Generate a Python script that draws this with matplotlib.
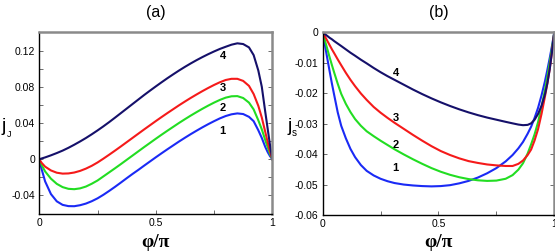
import numpy as np
import matplotlib
matplotlib.use("Agg")
import matplotlib.pyplot as plt
from matplotlib.ticker import FixedLocator, FixedFormatter

plt.rcParams['font.family'] = ['Liberation Sans', 'DejaVu Sans']

# ---- panel (a): j_J versus phi/pi ----
phi_a = [0, 0.01, 0.025, 0.05, 0.075, 0.1, 0.125, 0.15, 0.175, 0.2, 0.225, 0.25,
         0.275, 0.3, 0.325, 0.35, 0.375, 0.4, 0.425, 0.45, 0.475, 0.5, 0.525, 0.55,
         0.575, 0.6, 0.625, 0.65, 0.675, 0.7, 0.725, 0.75, 0.775, 0.8, 0.825, 0.85,
         0.875, 0.9, 0.92, 0.94, 0.955, 0.97, 0.98, 0.99, 1.0]
jj_1 = [0, -0.011, -0.0245, -0.0385, -0.0465, -0.0504, -0.0518, -0.0519, -0.0508,
        -0.049, -0.0464, -0.0432, -0.0393, -0.035, -0.0305, -0.0258, -0.021, -0.0163,
        -0.0118, -0.0071, -0.0025, 0.0021, 0.0066, 0.011, 0.0153, 0.0196, 0.0237,
        0.0277, 0.0315, 0.0352, 0.0387, 0.042, 0.0451, 0.0477, 0.0496, 0.0506, 0.0499,
        0.0468, 0.042, 0.032, 0.0235, 0.0135, 0.008, 0.0035, 0]
jj_2 = [0, -0.0065, -0.0135, -0.0215, -0.0272, -0.0308, -0.0327, -0.0331, -0.0322,
        -0.0302, -0.0271, -0.0235, -0.019, -0.0145, -0.01, -0.0054, -0.0007, 0.004,
        0.0087, 0.0134, 0.018, 0.0226, 0.0271, 0.0315, 0.0358, 0.0401, 0.0442, 0.0482,
        0.052, 0.0557, 0.0592, 0.0625, 0.0655, 0.068, 0.0695, 0.0697, 0.0676, 0.0625,
        0.055, 0.043, 0.033, 0.021, 0.0135, 0.006, 0]
jj_3 = [0, -0.004, -0.0082, -0.0124, -0.0149, -0.0159, -0.0157, -0.0147, -0.0129,
        -0.0104, -0.0073, -0.0036, 0.0006, 0.005, 0.0095, 0.0141, 0.0188, 0.0235,
        0.0282, 0.0329, 0.0375, 0.0421, 0.0466, 0.051, 0.0553, 0.0596, 0.0637, 0.0677,
        0.0715, 0.0752, 0.0787, 0.082, 0.085, 0.0875, 0.0888, 0.0888, 0.0865, 0.081,
        0.072, 0.059, 0.046, 0.030, 0.019, 0.009, 0]
jj_4 = [0, 0.0008, 0.002, 0.0043, 0.0068, 0.0095, 0.0126, 0.016, 0.0196, 0.0234,
        0.0275, 0.0318, 0.0363, 0.041, 0.0459, 0.0509, 0.0559, 0.0609, 0.0659, 0.0709,
        0.0757, 0.0804, 0.085, 0.0895, 0.0938, 0.098, 0.102, 0.1058, 0.1094, 0.1128,
        0.116, 0.119, 0.1218, 0.1242, 0.1265, 0.128, 0.1272, 0.1235, 0.115, 0.098,
        0.080, 0.052, 0.034, 0.016, 0]

# ---- panel (b): j_s versus phi/pi ----
phi_b = [0, 0.005, 0.01, 0.02, 0.03, 0.04, 0.05, 0.065, 0.08, 0.1, 0.12, 0.14, 0.165,
         0.19, 0.22, 0.25, 0.28, 0.31, 0.35, 0.39, 0.43, 0.47, 0.51, 0.55, 0.59, 0.63,
         0.67, 0.71, 0.75, 0.79, 0.82, 0.845, 0.865, 0.885, 0.9, 0.915, 0.93, 0.945,
         0.96, 0.97, 0.98, 0.99, 1.0]
js_1 = [0, -0.0021, -0.0043, -0.0086, -0.0128, -0.0169, -0.0207, -0.0263, -0.0307,
        -0.0348, -0.0383, -0.041, -0.0436, -0.0455, -0.047, -0.0481, -0.0489, -0.0495,
        -0.05, -0.0503, -0.0505, -0.0506, -0.0505, -0.0502, -0.0496, -0.0488, -0.0477,
        -0.0463, -0.0446, -0.0424, -0.0403, -0.0381, -0.036, -0.0333, -0.031, -0.0281,
        -0.0248, -0.0207, -0.016, -0.0124, -0.0086, -0.0045, 0]
js_2 = [0, -0.0014, -0.0028, -0.0055, -0.0082, -0.0108, -0.0133, -0.0169, -0.0202,
        -0.0235, -0.0262, -0.0285, -0.0307, -0.0325, -0.0341, -0.0356, -0.037, -0.0384,
        -0.0401, -0.0417, -0.0432, -0.0446, -0.0458, -0.0468, -0.0476, -0.0482, -0.0486,
        -0.0488, -0.0487, -0.0481, -0.0469, -0.0451, -0.043, -0.0398, -0.0368, -0.0335,
        -0.0295, -0.0245, -0.0188, -0.0146, -0.0102, -0.0053, 0]
js_3 = [0, -0.0007, -0.0014, -0.0028, -0.0042, -0.0056, -0.0069, -0.0089, -0.0108,
        -0.0133, -0.0156, -0.0177, -0.0201, -0.0222, -0.0245, -0.0264, -0.0281, -0.0297,
        -0.0317, -0.0337, -0.0356, -0.0374, -0.039, -0.0403, -0.0414, -0.0423, -0.0429,
        -0.0434, -0.0437, -0.0439, -0.0439, -0.0432, -0.0421, -0.0403, -0.0385, -0.0355,
        -0.0318, -0.0268, -0.021, -0.0168, -0.0122, -0.0065, 0]
js_4 = [0, -0.0003, -0.0006, -0.0012, -0.0018, -0.0023, -0.0029, -0.0037, -0.0045,
        -0.0056, -0.0067, -0.0077, -0.009, -0.0102, -0.0117, -0.0131, -0.0144, -0.0156,
        -0.0172, -0.0188, -0.0203, -0.0217, -0.023, -0.0242, -0.0253, -0.0263, -0.0272,
        -0.028, -0.0287, -0.0294, -0.0299, -0.0303, -0.0305, -0.0304, -0.0299, -0.0287,
        -0.0268, -0.0241, -0.0203, -0.0168, -0.0123, -0.0065, 0]

curve_names = ['1', '2', '3', '4']
colors = ['#1a2af5', '#22dd22', '#f51a1a', '#15106a']

# curve number label positions (data coords)
lab_a_x = [0.787, 0.787, 0.787, 0.787]
lab_a_y = [0.0315, 0.057, 0.0789, 0.1142]
lab_b_x = [0.315, 0.315, 0.315, 0.315]
lab_b_y = [-0.0447, -0.037, -0.0282, -0.01346]

xticks = [0, 0.5, 1]
xtick_labels = ['0', '0.5', '1']
xminor = [0.25, 0.75]
yticks_a = [-0.04, 0, 0.04, 0.08, 0.12]
ytick_labels_a = ['-0.04', '0', '0.04', '0.08', '0.12']
yminor_a = [-0.06, -0.02, 0.02, 0.06, 0.10, 0.14]
yticks_b = [-0.06, -0.05, -0.04, -0.03, -0.02, -0.01, 0]
ytick_labels_b = ['-0.06', '-0.05', '-0.04', '-0.03', '-0.02', '-0.01', '0']

fig = plt.figure(figsize=(5.55, 2.52), dpi=100)
ax_a = fig.add_axes([0.0708, 0.1508, 0.4198, 0.7222])
ax_b = fig.add_axes([0.5814, 0.1468, 0.4173, 0.7250])


def style_axes(ax, yt, ytl, ymin, ylim):
    ax.set_xlim(0, 1)
    ax.set_ylim(*ylim)
    ax.xaxis.set_major_locator(FixedLocator(xticks))
    ax.xaxis.set_major_formatter(FixedFormatter(xtick_labels))
    ax.xaxis.set_minor_locator(FixedLocator(xminor))
    ax.yaxis.set_major_locator(FixedLocator(yt))
    ax.yaxis.set_major_formatter(FixedFormatter(ytl))
    if ymin:
        ax.yaxis.set_minor_locator(FixedLocator(ymin))
    ax.tick_params(which='both', direction='in', labelsize=7.5, width=0.6,
                   right=True, top=False, colors='#555555', labelcolor='black')
    ax.tick_params(which='major', length=3, pad=3)
    ax.tick_params(which='minor', length=3)
    for s in ['left', 'bottom']:
        ax.spines[s].set_color('black')
        ax.spines[s].set_linewidth(1.0)
    for s in ['top', 'right']:
        ax.spines[s].set_color('#8a8a8a')
        ax.spines[s].set_linewidth(1.8)


for ys, c in zip([jj_1, jj_2, jj_3, jj_4], colors):
    ax_a.plot(phi_a, ys, color=c, lw=1.5, solid_joinstyle='round')
for ys, c in zip([js_1, js_2, js_3, js_4], colors):
    ax_b.plot(phi_b, ys, color=c, lw=1.5, solid_joinstyle='round')

for name, x, y in zip(curve_names, lab_a_x, lab_a_y):
    ax_a.text(x, y, name, fontsize=8, fontweight='bold', ha='center', va='center')
for name, x, y in zip(curve_names, lab_b_x, lab_b_y):
    ax_b.text(x, y, name, fontsize=8, fontweight='bold', ha='center', va='center')

style_axes(ax_a, yticks_a, ytick_labels_a, yminor_a, (-0.0605, 0.1405))
style_axes(ax_b, yticks_b, ytick_labels_b, None, (-0.06, 0.0))

# titles and axis labels
fig.text(0.2807, 0.952, '(a)', fontsize=11.5, ha='center', va='center')
fig.text(0.7900, 0.952, '(b)', fontsize=11.5, ha='center', va='center')
for xc in [0.2807, 0.7900]:
    fig.text(xc, 0.036, 'φ/π', fontsize=14, fontweight='bold',
             family=['Liberation Serif', 'DejaVu Serif'], ha='center', va='center')
fig.text(0.0076, 0.480, 'j', fontsize=14, ha='center', va='baseline')
fig.text(0.0160, 0.458, 'J', fontsize=6.5, ha='center', va='baseline')
fig.text(0.5225, 0.480, 'j', fontsize=14, ha='center', va='baseline')
fig.text(0.5306, 0.460, 's', fontsize=7, ha='center', va='baseline')

fig.savefig('out.png', dpi=100)
